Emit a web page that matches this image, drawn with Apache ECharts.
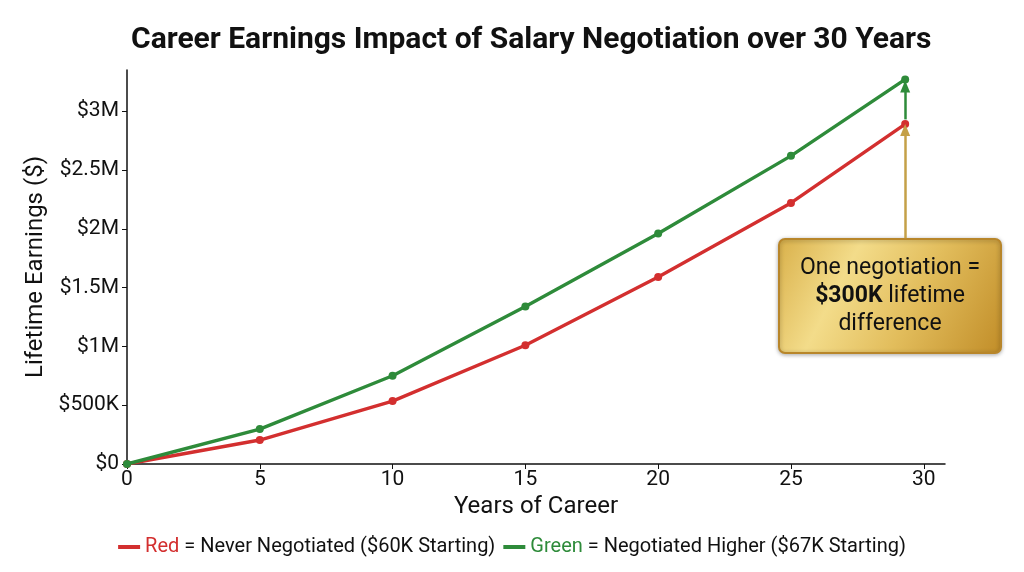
<!DOCTYPE html>
<html><head><meta charset="utf-8">
<script src="https://cdn.jsdelivr.net/npm/echarts@6/dist/echarts.min.js"></script>
<style>html,body{margin:0;padding:0;background:#fff}#c{width:1024px;height:572px}</style>
</head><body><div id="c"></div>
<script>
const years = [0, 5, 10, 15, 20, 25, 29.3];
const neverNegotiated = [0, 204000, 535000, 1010000, 1590000, 2220000, 2890000];
const negotiatedHigher = [0, 297000, 750000, 1340000, 1960000, 2620000, 3270000];
const yTicks = [0, 500000, 1000000, 1500000, 2000000, 2500000, 3000000];
const xTicks = [0, 5, 10, 15, 20, 25, 30];

function fmtY(v){
  if (v === 0) return '$0';
  if (v < 1000000) return '$' + (v/1000) + 'K';
  return '$' + (v/1000000) + 'M';
}
const lastX = years[years.length-1];
const lastRed = neverNegotiated[neverNegotiated.length-1];
const lastGreen = negotiatedHigher[negotiatedHigher.length-1];

const chart = echarts.init(document.getElementById('c'));
const font = 'Roboto';
chart.setOption({
  animation: false,
  textStyle: {fontFamily: font},
  title: {text: 'Career Earnings Impact of Salary Negotiation over 30 Years', left: 126, top: 20,
    textStyle: {fontFamily: font, fontSize: 30, fontWeight: 'bold', color: '#111'}},
  grid: {left: 127, right: 79, top: 70, bottom: 108},
  xAxis: {type: 'value', min: 0, max: 30.8, interval: 5,
    name: 'Years of Career', nameLocation: 'middle', nameGap: 31,
    nameTextStyle: {fontSize: 24, color: '#111', fontFamily: font},
    axisLine: {lineStyle: {color: '#111', width: 1.5}},
    axisTick: {length: 5, lineStyle: {color: '#111'}},
    splitLine: {show: false},
    axisLabel: {fontSize: 21, color: '#111', margin: 5, showMaxLabel: false,
      formatter: v => xTicks.includes(v) ? String(v) : ''}},
  yAxis: {type: 'value', min: 0, max: 3350000, interval: 500000,
    name: 'Lifetime Earnings ($)', nameLocation: 'middle', nameGap: 79,
    nameTextStyle: {fontSize: 24, color: '#111', fontFamily: font},
    axisLine: {show: true, lineStyle: {color: '#111', width: 1.5}},
    axisTick: {show: true, length: 5, lineStyle: {color: '#111'}},
    splitLine: {show: false},
    axisLabel: {fontSize: 21, color: '#111', margin: 8, showMaxLabel: false,
      formatter: v => yTicks.includes(v) ? fmtY(v) : ''}},
  legend: {bottom: 10, left: 'center', itemWidth: 22, itemHeight: 4, itemGap: 8,
    icon: 'rect',
    textStyle: {fontSize: 20, color: '#111', fontFamily: font,
      rich: {r: {color: '#d32f2f', fontSize: 20, fontFamily: font}, g: {color: '#2e8b3a', fontSize: 20, fontFamily: font}}},
    formatter: n => n === 'Never Negotiated' ? '{r|Red} = Never Negotiated ($60K Starting)' : '{g|Green} = Negotiated Higher ($67K Starting)'},
  series: [
    {name: 'Never Negotiated', type: 'line', data: years.map((x,i)=>[x, neverNegotiated[i]]),
      color: '#d32f2f', lineStyle: {width: 3.4}, symbol: 'circle', symbolSize: 8, z: 3,
      markLine: {silent: true, symbol: ['none', 'triangle'], symbolSize: [10, 12],
        label: {show: false}, lineStyle: {color: '#c4a048', width: 2.5, type: 'solid'},
        data: [[{coord: [lastX, 1920000]}, {coord: [lastX, 2840000]}]]}},
    {name: 'Negotiated Higher', type: 'line', data: years.map((x,i)=>[x, negotiatedHigher[i]]),
      color: '#2e8b3a', lineStyle: {width: 3.4}, symbol: 'circle', symbolSize: 8, z: 4,
      markLine: {silent: true, symbol: ['none', 'triangle'], symbolSize: [10, 12],
        label: {show: false}, lineStyle: {color: '#2e8b3a', width: 2.5, type: 'solid'},
        data: [[{coord: [lastX, lastRed + 40000]}, {coord: [lastX, lastGreen - 60000]}]]}}
  ],
  graphic: [
    {type: 'group', left: 778, top: 238, children: [
      {type: 'rect', shape: {x: 0, y: 0, width: 222, height: 114, r: 6},
        style: {fill: new echarts.graphic.LinearGradient(0, 0, 1, 1, [
          {offset: 0, color: '#d9b04a'}, {offset: 0.3, color: '#f3dc8a'},
          {offset: 0.6, color: '#e2bd5c'}, {offset: 1, color: '#c18d28'}]),
          stroke: '#b8862a', lineWidth: 2, shadowBlur: 4, shadowColor: 'rgba(0,0,0,0.3)', shadowOffsetY: 1}},
      {type: 'text', style: {x: 111, y: 57, text: 'One negotiation =\n{b|$300K} lifetime\ndifference',
        align: 'center', verticalAlign: 'middle', fill: '#111', fontSize: 23, fontFamily: font, lineHeight: 28,
        rich: {b: {fontWeight: 'bold', fontSize: 23, fontFamily: font, fill: '#111'}}}}
    ]}
  ]
});
</script></body></html>
